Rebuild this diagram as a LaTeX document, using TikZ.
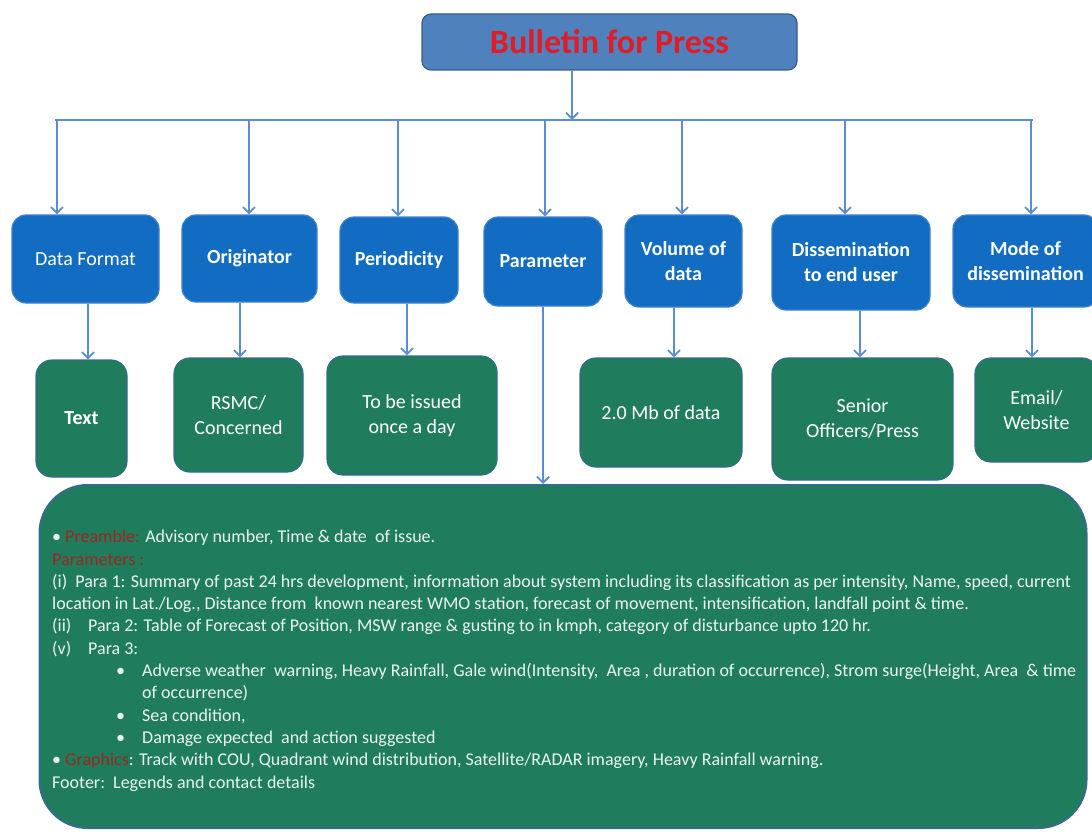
\documentclass[tikz,border=0pt]{standalone}
\usepackage{fontspec}
\setmainfont{Carlito}
\usetikzlibrary{arrows.meta}
\definecolor{linkblue}{RGB}{91,141,215}
\definecolor{pressblue}{RGB}{79,129,189}
\definecolor{pressedge}{RGB}{56,93,138}
\definecolor{presstext}{RGB}{226,28,38}
\definecolor{hdrblue}{RGB}{18,108,194}
\definecolor{hdredge}{RGB}{62,128,205}
\definecolor{valgreen}{RGB}{31,125,94}
\definecolor{valedge}{RGB}{52,108,138}
\definecolor{bodytext}{RGB}{236,246,240}
\definecolor{keyred}{RGB}{158,38,30}
\tikzset{
  arr/.style={draw=linkblue,line width=1.8pt,-{Straight Barb[length=6pt,width=12pt]}},
  bus/.style={draw=linkblue,line width=1.8pt},
  press/.style={rectangle,rounded corners=9pt,draw=pressedge,line width=1.2pt,fill=pressblue,text=presstext,font=\fontsize{34}{40}\selectfont\bfseries,inner sep=0pt},
  hdr/.style={rectangle,rounded corners=14pt,draw=hdredge,line width=1.2pt,fill=hdrblue,text=white,align=center,inner sep=0pt,font=\fontsize{20}{25}\selectfont\bfseries},
  val/.style={rectangle,rounded corners=16pt,draw=valedge,line width=1.2pt,fill=valgreen,text=white,align=center,inner sep=0pt,font=\fontsize{20}{25}\selectfont},
  panel/.style={rectangle,rounded corners=48pt,draw=valedge,line width=2pt,fill=valgreen},
  info/.style={text=bodytext,align=left,inner sep=0pt,font=\fontsize{18}{22.3}\selectfont}
}
\begin{document}
\begin{tikzpicture}[x=1pt,y=-1pt]
\useasboundingbox (0,0) rectangle (1092,832);
\node[press,minimum width=375pt,minimum height=56pt] (press) at (609.5,42) {Bulletin for Press};
\node[hdr,minimum width=147pt,minimum height=88pt,font=\fontsize{20}{25}\selectfont] (dfmt) at (85.5,259) {Data Format};
\node[hdr,minimum width=135pt,minimum height=87pt] (orig) at (249.5,258.5) {Originator};
\node[hdr,minimum width=118pt,minimum height=86pt] (peri) at (399,260) {Periodicity};
\node[hdr,minimum width=118pt,minimum height=89pt] (param) at (543,261.5) {Parameter};
\node[hdr,minimum width=117pt,minimum height=92pt] (vol) at (683.5,261) {Volume of\\data};
\node[hdr,minimum width=158pt,minimum height=95pt] (diss) at (851,262.5) {Dissemination\\to end user};
\node[hdr,minimum width=145pt,minimum height=92pt] (mode) at (1025.5,261) {Mode of\\dissemination};
\node[val,minimum width=91pt,minimum height=117pt,font=\fontsize{20}{25}\selectfont\bfseries] (txt) at (81.5,418.5) {Text};
\node[val,minimum width=129pt,minimum height=114pt] (rsmc) at (238.5,415) {RSMC/\\Concerned};
\node[val,minimum width=170pt,minimum height=119pt] (once) at (412,415.5) {To be issued\\once a day};
\node[val,minimum width=162pt,minimum height=109pt] (mb) at (661,412.5) {2.0 Mb of data};
\node[val,minimum width=181pt,minimum height=122pt] (senior) at (862.5,419) {Senior\\Officers/Press};
\node[val,minimum width=123pt,minimum height=104pt] (email) at (1036.5,410) {Email/\\Website};
\node[panel,minimum width=1047pt,minimum height=343pt] (body) at (563,656.5) {};
\node[info,anchor=north west] (notes) at (52,530) {%
\textbullet\ \textcolor{keyred}{Preamble:} Advisory number, Time \& date\ \ of issue.\\
\textcolor{keyred}{Parameters :}\\
(i)\ \ Para 1: Summary of past 24 hrs development, information about system including its classification as per intensity, Name, speed, current\\
location in Lat./Log., Distance from\ \ known nearest WMO station, forecast of movement, intensification, landfall point \& time.\\
\makebox[36pt][l]{(ii)}Para 2: Table of Forecast of Position, MSW range \& gusting to in kmph, category of disturbance upto 120 hr.\\
\makebox[36pt][l]{(v)}Para 3:\\
\hspace*{64pt}\makebox[26pt][l]{\textbullet}Adverse weather\ \ warning, Heavy Rainfall, Gale wind(Intensity,\ \ Area , duration of occurrence), Strom surge(Height, Area\ \ \& time\\
\hspace*{90pt}of occurrence)\\
\hspace*{64pt}\makebox[26pt][l]{\textbullet}Sea condition,\\
\hspace*{64pt}\makebox[26pt][l]{\textbullet}Damage expected\ \ and action suggested\\
\textbullet\ \textcolor{keyred}{Graphics}: Track with COU, Quadrant wind distribution, Satellite/RADAR imagery, Heavy Rainfall warning.\\
Footer:\ \ Legends and contact details};
\coordinate (hub) at (572,120);
\coordinate (busL) at (55,120);
\coordinate (busR) at (1033,120);
\draw[bus] (busL) -- (busR);
\draw[arr] (press.south -| hub) -- (hub);
\foreach \n/\x in {dfmt/57,orig/249,peri/398,param/545,vol/682,diss/845,mode/1031}{
  \coordinate (b\n) at (\x,120);
  \draw[arr] (b\n) -- (b\n |- \n.north);
}
\foreach \a/\b/\x in {dfmt/txt/88,orig/rsmc/240,peri/once/407,vol/mb/674,diss/senior/860,mode/email/1032}{
  \coordinate (s\b) at (\x,0);
  \draw[arr] (\a.south -| s\b) -- (\b.north -| s\b);
}
\draw[arr] (param.south) -- (param.south |- body.north);
\end{tikzpicture}
\end{document}
